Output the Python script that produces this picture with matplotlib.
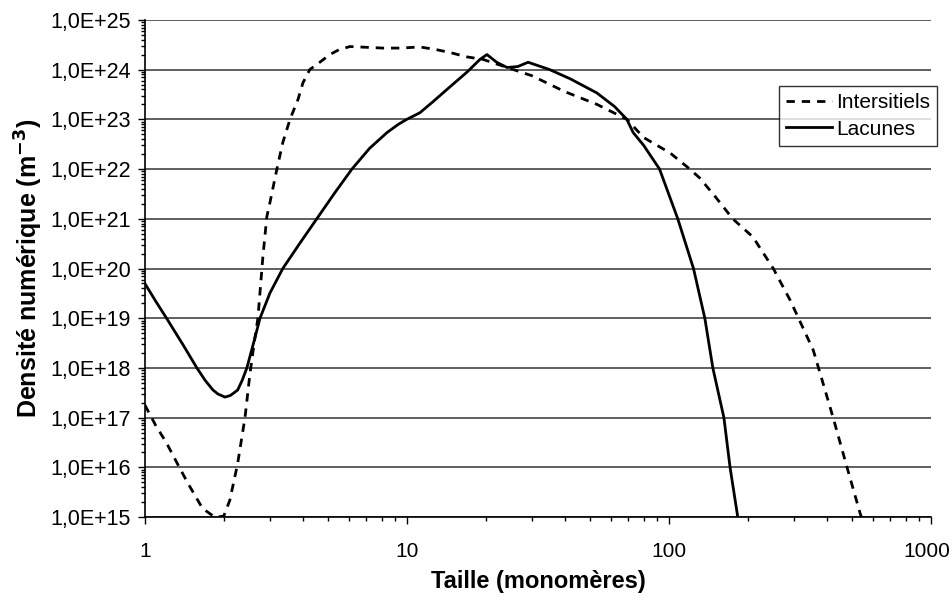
import math
import matplotlib
matplotlib.use("Agg")
import matplotlib.pyplot as plt
import matplotlib.transforms as mtransforms
from matplotlib.ticker import FixedLocator, FuncFormatter, LogLocator, NullFormatter

plt.rcParams['font.family'] = ['Liberation Sans', 'DejaVu Sans']

# distribution en taille des amas
lac_x = [1.0, 1.1, 1.21, 1.4, 1.58, 1.7, 1.82, 1.9, 2.02, 2.12, 2.26, 2.35, 2.45,
         2.6, 2.75, 3.0, 3.36, 3.9, 4.53, 5.3, 6.17, 7.2, 8.39, 9.3, 10.0, 11.2,
         12.5, 14.6, 17.0, 19.0, 20.2, 22.0, 24.1, 26.5, 29.0, 35.0, 42.0, 53.0,
         62.0, 69.0, 73.0, 80.0, 92.0, 108.0, 124.0, 137.0, 147.0, 162.0, 171.0,
         183.0]
lac_y = [5.0e19, 2.2e19, 1.0e19, 2.9e18, 1.0e18, 5.6e17, 3.6e17, 3.0e17, 2.6e17,
         2.8e17, 3.6e17, 5.6e17, 1.0e18, 3.2e18, 1.0e19, 3.2e19, 1.0e20, 3.2e20,
         1.0e21, 3.3e21, 1.0e22, 2.6e22, 5.4e22, 8.0e22, 1.0e23, 1.35e23, 2.2e23,
         4.5e23, 9.0e23, 1.6e24, 2.0e24, 1.4e24, 1.1e24, 1.15e24, 1.4e24, 1.0e24,
         6.5e23, 3.4e23, 1.8e23, 1.0e23, 5.4e22, 3.0e22, 1.0e22, 1.0e21, 1.0e20,
         1.0e19, 1.0e18, 1.0e17, 1.0e16, 1.0e15]

int_x = [1.0, 1.1, 1.21, 1.33, 1.46, 1.66, 1.85, 2.0, 2.11, 2.26, 2.41, 2.52, 2.62,
         2.70, 2.82, 2.92, 3.0, 3.19, 3.36, 3.58, 3.84, 4.01, 4.26, 4.65, 5.08, 5.5,
         6.06, 7.0, 8.1, 9.5, 11.2, 13.0, 14.6, 16.9, 19.5, 24.1, 30.0, 40.0, 53.0,
         69.0, 80.0, 101.0, 120.0, 131.0, 150.0, 175.0, 209.0, 250.0, 290.0, 355.0,
         377.0, 423.0, 478.0, 536.0, 550.0]
int_y = [1.8e17, 7.0e16, 3.1e16, 1.2e16, 4.8e15, 1.5e15, 1.0e15, 1.05e15, 2.2e15,
         1.2e16, 1.0e17, 8.0e17, 3.5e18, 1.0e19, 1.7e20, 1.1e21, 2.1e21, 1.0e22,
         3.4e22, 1.0e23, 2.5e23, 5.4e23, 1.0e24, 1.4e24, 2.0e24, 2.5e24, 2.9e24,
         2.8e24, 2.7e24, 2.7e24, 2.85e24, 2.5e24, 2.2e24, 1.8e24, 1.6e24, 1.1e24,
         7.5e23, 3.6e23, 2.0e23, 1.0e23, 4.3e22, 2.1e22, 1.0e22, 6.6e21, 2.8e21,
         1.0e21, 4.3e20, 1.0e20, 2.3e19, 2.3e18, 7.9e17, 1.0e17, 1.0e16, 1.2e15, 8.0e14]

x_ticks = [1, 10, 100, 1000]
y_ticks = [10.0 ** e for e in range(15, 26)]

fig = plt.figure(figsize=(9.53, 6.0), dpi=100)
ax = fig.add_axes([0.152, 0.138, 0.825, 0.829])

ax.plot(int_x, int_y, color='black', lw=2, linestyle=(0, (3, 2.5)), label='Intersitiels')
ax.plot(lac_x, lac_y, color='black', lw=2, label='Lacunes')

ax.set_xscale('log')
ax.set_yscale('log')
ax.set_xlim(1, 1000)
ax.set_ylim(1e15, 1e25)

ax.xaxis.set_major_locator(FixedLocator(x_ticks))
ax.xaxis.set_major_formatter(FuncFormatter(lambda v, p: '%d' % round(v)))
ax.xaxis.set_minor_locator(LogLocator(base=10, subs=range(2, 10)))
ax.xaxis.set_minor_formatter(NullFormatter())
ax.yaxis.set_major_locator(FixedLocator(y_ticks))
ax.yaxis.set_major_formatter(FuncFormatter(lambda v, p: '1,0E+%d' % round(math.log10(v))))
ax.yaxis.set_minor_locator(LogLocator(base=10, subs=range(2, 10), numticks=20))
ax.yaxis.set_minor_formatter(NullFormatter())

ax.tick_params(which='major', direction='out', length=5, width=1, labelsize=15.5, pad=5)
ax.tick_params(which='minor', direction='out', length=3, width=1)
ax.tick_params(axis='x', pad=13, labelsize=15)

ax.grid(True, which='major', axis='y', color='#444444', lw=1.2)
ax.set_axisbelow(True)
for s in ['top', 'right']:
    ax.spines[s].set_visible(False)
for s in ['left', 'bottom']:
    ax.spines[s].set_linewidth(1.2)

# keep "1000" inside the figure
last = ax.get_xticklabels()[-1]
last.set_transform(last.get_transform() +
                   mtransforms.ScaledTranslation(-4 / 100, 0, fig.dpi_scale_trans))

ax.set_xlabel('Taille (monomères)', fontsize=17, fontweight='bold', labelpad=6)
ax.set_ylabel(r'Densité numérique (m$^{\mathbf{-3}}$)', fontsize=18, fontweight='bold',
              labelpad=4)

leg = ax.legend(loc='upper right', bbox_to_anchor=(1.008, 0.867), borderaxespad=0,
                fontsize=15, frameon=True, fancybox=False, handlelength=2.2,
                handletextpad=0.2, borderpad=0.35, labelspacing=0.35)
leg.get_frame().set_edgecolor('black')
leg.get_frame().set_linewidth(1)

fig.savefig('out.png', dpi=100)
